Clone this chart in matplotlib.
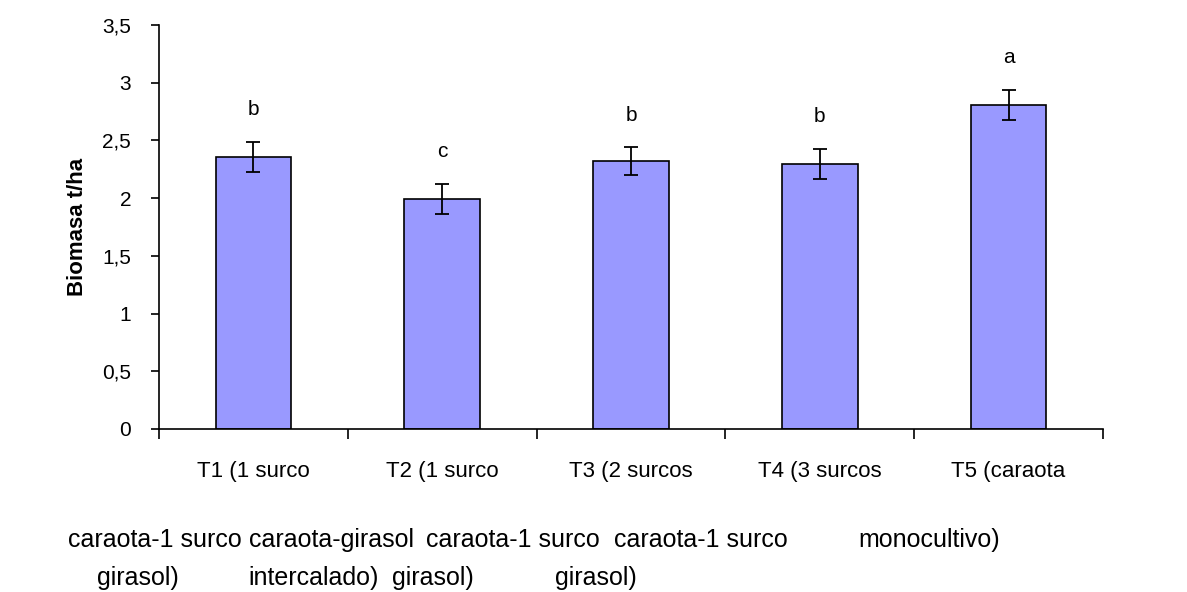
import numpy as np
import matplotlib
matplotlib.use("Agg")
import matplotlib.pyplot as plt

plt.rcParams['font.family'] = ['Liberation Sans', 'DejaVu Sans']

# data
tratamientos = ['T1 (1 surco', 'T2 (1 surco', 'T3 (2 surcos', 'T4 (3 surcos', 'T5 (caraota']
biomasa = [2.36, 1.99, 2.32, 2.30, 2.81]
error = [0.13, 0.13, 0.12, 0.13, 0.13]
letras = ['b', 'c', 'b', 'b', 'a']

# second and third lines of the (badly wrapped) category labels
linea2 = ['caraota-1 surco', 'caraota-girasol', 'caraota-1 surco', 'caraota-1 surco', 'monocultivo)']
linea2_x = [68, 249, 426, 614, 858]
linea3 = ['girasol)', 'intercalado)', 'girasol)', 'girasol)']
linea3_x = [97, 248, 392, 555]

W, H = 1187, 592
fig = plt.figure(figsize=(W / 100, H / 100), dpi=100)
ax = fig.add_axes([159 / W, 1 - 429 / H, (1103 - 159) / W, (429 - 25) / H])

x = np.arange(len(tratamientos))
ax.bar(x, biomasa, width=0.40, color='#9999FF', edgecolor='black', linewidth=1.2, zorder=2)
ax.errorbar(x, biomasa, yerr=error, fmt='none', ecolor='black', elinewidth=1.3,
            capsize=5, capthick=1.3, zorder=3)

for xi, v, e, l in zip(x, biomasa, error, letras):
    ax.text(xi, v + e + 0.28, l, ha='center', va='center', fontsize=15)

ax.set_xlim(-0.5, len(tratamientos) - 0.5)
ax.set_ylim(0, 3.5)
ax.set_yticks(np.arange(0, 3.51, 0.5))
ax.set_yticklabels([f'{t:g}'.replace('.', ',') for t in np.arange(0, 3.51, 0.5)], fontsize=15)
ax.tick_params(axis='y', direction='out', length=6, width=1.2, pad=14)

ax.set_xticks(x)
ax.set_xticklabels(tratamientos, fontsize=16)
ax.tick_params(axis='x', which='major', length=0, pad=23)
ax.set_xticks(np.arange(-0.5, len(tratamientos)), minor=True)
ax.tick_params(axis='x', which='minor', direction='out', length=7, width=1.2)

for s in ['top', 'right']:
    ax.spines[s].set_visible(False)
for s in ['left', 'bottom']:
    ax.spines[s].set_linewidth(1.2)

ax.set_ylabel('Biomasa t/ha', fontsize=16, fontweight='bold', labelpad=10)

for t, px in zip(linea2, linea2_x):
    fig.text(px / W, 1 - 540 / H, t, fontsize=18, ha='left', va='center')
for t, px in zip(linea3, linea3_x):
    fig.text(px / W, 1 - 578 / H, t, fontsize=18, ha='left', va='center')

fig.savefig('out.png', dpi=100)
